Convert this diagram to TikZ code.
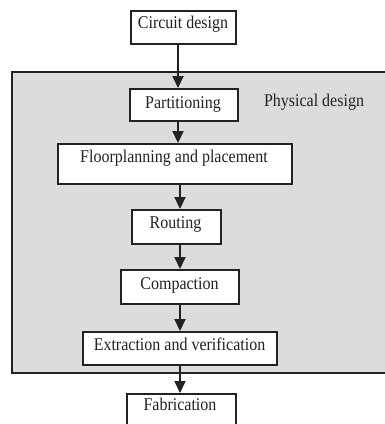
\documentclass[tikz,border=0pt]{standalone}
\usepackage{fontspec}
\usepackage{graphicx}
\setmainfont{Liberation Serif}
\usetikzlibrary{arrows.meta}
\newcommand\stretchtxt[1]{\scalebox{1}[1.12]{#1}}
\definecolor{regiongray}{RGB}{220,220,220}
\definecolor{inkdark}{RGB}{34,34,34}
\begin{document}
\begin{tikzpicture}[x=1pt,y=-1pt,
  boxnode/.style={draw=inkdark, line width=2pt, fill=white, inner sep=0pt, anchor=north west},
  txt/.style={font=\fontsize{16}{18}\selectfont, text=inkdark, inner sep=0pt, anchor=base},
  arr/.style={draw=inkdark, line width=2pt, -{Triangle[width=11pt,length=12pt]}},
  region/.style={draw=inkdark, line width=2pt, fill=regiongray, inner sep=0pt, anchor=north west}]
\useasboundingbox (0,0) rectangle (385,424);
\clip (0,0) rectangle (385,424);
\fill[white] (0,0) rectangle (385,424);
% physical design region
\node[region, minimum width=381pt, minimum height=301pt] (phys) at (11,70.5) {};
\node[txt] (physlbl) at (314,106.7) {\stretchtxt{Physical design}};
% boxes
\node[boxnode, minimum width=105pt, minimum height=33pt] (cd) at (130,10) {};
\node[boxnode, minimum width=108pt, minimum height=32pt] (part) at (129,88) {};
\node[boxnode, minimum width=234pt, minimum height=40pt] (floor) at (57,143) {};
\node[boxnode, minimum width=89pt, minimum height=34pt] (rout) at (131,209) {};
\node[boxnode, minimum width=118pt, minimum height=34pt] (comp) at (120,269) {};
\node[boxnode, minimum width=194pt, minimum height=33pt] (extr) at (82,331) {};
\node[boxnode, minimum width=109pt, minimum height=45pt] (fab) at (126,393) {};
% labels
\node[txt] (cdlbl) at (183,28.3) {\stretchtxt{Circuit design}};
\node[txt] (partlbl) at (183,108.3) {\stretchtxt{Partitioning}};
\node[txt] (floorlbl) at (174,162.3) {\stretchtxt{Floorplanning and placement}};
\node[txt] (routlbl) at (175.5,228.3) {\stretchtxt{Routing}};
\node[txt] (complbl) at (179.5,289) {\stretchtxt{Compaction}};
\node[txt] (extrlbl) at (179.5,350) {\stretchtxt{Extraction and verification}};
\node[txt] (fablbl) at (180,410.7) {\stretchtxt{Fabrication}};
% arrows
\coordinate (ax1) at (178,0);
\coordinate (ax) at (180,0);
\draw[arr] (cd.south -| ax1) -- (part.north -| ax1);
\draw[arr] (part.south -| ax1) -- (floor.north -| ax1);
\draw[arr] (floor.south -| ax) -- (rout.north -| ax);
\draw[arr] (rout.south -| ax) -- (comp.north -| ax);
\draw[arr] (comp.south -| ax) -- (extr.north -| ax);
\draw[arr] (extr.south -| ax) -- (fab.north -| ax);
\end{tikzpicture}
\end{document}
